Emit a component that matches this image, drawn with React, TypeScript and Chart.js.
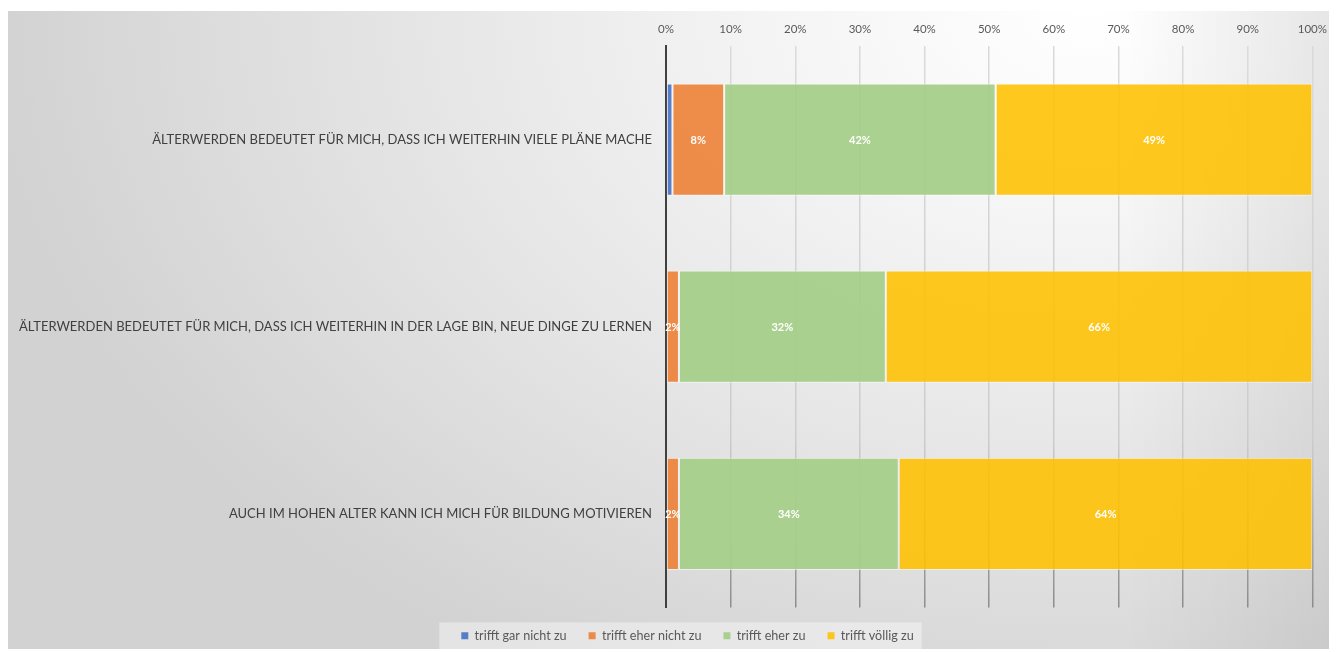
import React, { useEffect, useRef } from "react";
import { Chart, registerables } from "chart.js";

Chart.register(...registerables);

const categories = [
  "ÄLTERWERDEN BEDEUTET FÜR MICH, DASS ICH WEITERHIN VIELE PLÄNE MACHE",
  "ÄLTERWERDEN BEDEUTET FÜR MICH, DASS ICH WEITERHIN IN DER LAGE BIN, NEUE DINGE ZU LERNEN",
  "AUCH IM HOHEN ALTER KANN ICH MICH FÜR BILDUNG MOTIVIEREN",
];
const seriesNames = ["trifft gar nicht zu", "trifft eher nicht zu", "trifft eher zu", "trifft völlig zu"];
const garNicht = [1, 0, 0];
const eherNicht = [8, 2, 2];
const eherZu = [42, 32, 34];
const voellig = [49, 66, 64];
const xTicks = [0, 10, 20, 30, 40, 50, 60, 70, 80, 90, 100];

const FONT = "Lato, 'Liberation Sans', sans-serif";
const colors = [
  "rgba(68,114,196,0.9)",
  "rgba(237,125,49,0.88)",
  "rgba(165,207,137,0.95)",
  "rgba(255,192,0,0.88)",
];

const unclipYLabels = {
  id: "unclipY",
  afterLayout(chart: any) {
    if (chart.scales.y) chart.scales.y.left = 0;
  },
};

const legendBgPlugin = {
  id: "legendBg",
  beforeDraw(chart: any) {
    const lg = chart.legend;
    if (!lg || !lg.legendHitBoxes || !lg.legendHitBoxes.length) return;
    const hb = lg.legendHitBoxes;
    let l = Infinity, r = -Infinity, t = Infinity, b = -Infinity;
    hb.forEach((h: any) => {
      l = Math.min(l, h.left);
      r = Math.max(r, h.left + h.width);
      t = Math.min(t, h.top);
      b = Math.max(b, h.top + h.height);
    });
    const ctx = chart.ctx;
    ctx.save();
    ctx.fillStyle = "rgba(255,255,255,0.4)";
    ctx.fillRect(l - 22, t - 7, r - l + 30, b - t + 14);
    ctx.restore();
  },
};

const dataLabelPlugin = {
  id: "dataLabels",
  afterDatasetsDraw(chart: any) {
    const ctx = chart.ctx;
    ctx.save();
    ctx.fillStyle = "#ffffff";
    ctx.font = `bold 11px ${FONT}`;
    ctx.textAlign = "center";
    ctx.textBaseline = "middle";
    chart.data.datasets.forEach((ds: any, di: number) => {
      const meta = chart.getDatasetMeta(di);
      meta.data.forEach((bar: any, i: number) => {
        const v = ds.data[i];
        if (v <= 1) return;
        const cx = (bar.x + bar.base) / 2;
        ctx.fillText(`${v}%`, cx, bar.y + 1);
      });
    });
    ctx.restore();
  },
};

export default function App() {
  const ref = useRef<HTMLCanvasElement>(null);
  useEffect(() => {
    if (!ref.current) return;
    const seriesData = [garNicht, eherNicht, eherZu, voellig];
    const chart = new Chart(ref.current, {
      type: "bar",
      data: {
        labels: categories,
        datasets: seriesNames.map((name, i) => ({
          label: name,
          data: seriesData[i],
          backgroundColor: colors[i],
          borderColor: "rgba(255,255,255,0.55)",
          borderWidth: 1,
          borderSkipped: false,
          categoryPercentage: 0.6,
          barPercentage: 1,
        })),
      },
      options: {
        indexAxis: "y",
        animation: false,
        responsive: true,
        maintainAspectRatio: false,
        layout: { padding: { left: 54, right: 24, top: 0, bottom: 0 } },
        plugins: {
          tooltip: { enabled: false },
          legend: {
            position: "bottom",
            labels: {
              boxWidth: 7,
              boxHeight: 7,
              padding: 22,
              color: "#595959",
              font: { family: FONT, size: 12.6 },
              generateLabels: (chart: any) =>
                chart.data.datasets.map((ds: any, i: number) => ({
                  text: ds.label,
                  fillStyle: colors[i],
                  strokeStyle: colors[i],
                  lineWidth: 0,
                  fontColor: "#595959",
                  datasetIndex: i,
                  hidden: false,
                })),
            },
          },
        },
        scales: {
          x: {
            type: "linear",
            position: "top",
            stacked: true,
            min: 0,
            max: 100,
            afterFit: (s: any) => {
              s.height = 35;
            },
            afterBuildTicks: (s: any) => {
              s.ticks = xTicks.map((v) => ({ value: v }));
            },
            ticks: {
              color: "#595959",
              font: { family: FONT, size: 11.5 },
              padding: 10,
              callback: (v: any) => `${v}%`,
            },
            grid: {
              drawTicks: false,
              lineWidth: 1.5,
              color: (c: any) => {
                const ch = c.chart;
                const area = ch.chartArea;
                if (!area) return "#d9d9d9";
                const g = ch.ctx.createLinearGradient(0, area.top, 0, area.bottom);
                g.addColorStop(0, "#dadada");
                g.addColorStop(0.7, "#cccccc");
                g.addColorStop(1, "#8c8c8c");
                return g;
              },
            },
            border: { display: false },
          },
          y: {
            stacked: true,
            afterFit: (s: any) => {
              s.width = 604;
            },
            ticks: {
              color: "#404040",
              font: { family: FONT, size: 13 },
              padding: 14,
              autoSkip: false,
            },
            grid: { display: false, drawTicks: false },
            border: { display: true, color: "#404040", width: 2 },
          },
        },
      },
      plugins: [unclipYLabels, legendBgPlugin, dataLabelPlugin],
    } as any);
    return () => chart.destroy();
  }, []);

  return (
    <div
      style={{
        position: "relative",
        top: 3,
        width: 1329,
        height: 641,
        background:
          "linear-gradient(to right, rgba(0,0,0,0) 84%, rgba(0,0,0,0.07) 100%), radial-gradient(1100px 760px at 1080px 0px, #ffffff 0%, #f4f4f4 30%, #e6e6e6 60%, #d2d2d2 100%)",
      }}
    >
      <canvas ref={ref} />
    </div>
  );
}
